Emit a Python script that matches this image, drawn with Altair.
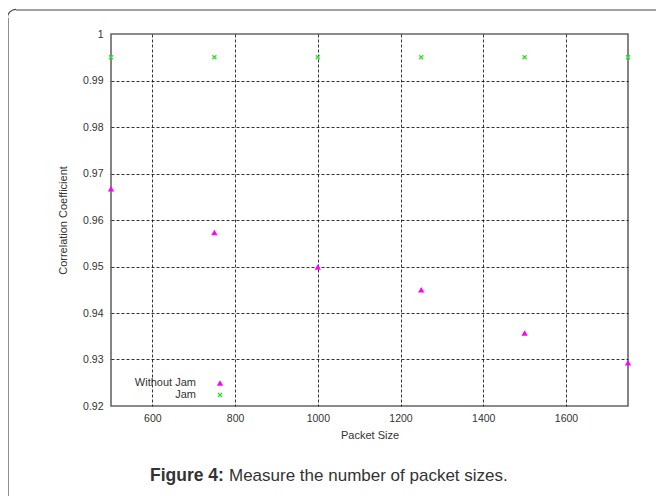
import altair as alt
import pandas as pd

packet_sizes = [500, 750, 1000, 1250, 1500, 1750]
without_jam = [0.9667, 0.9573, 0.9499, 0.9450, 0.9357, 0.9293]
jam = [0.995, 0.995, 0.995, 0.995, 0.995, 0.995]
x_ticks = [600, 800, 1000, 1200, 1400, 1600]
y_ticks = [0.92, 0.93, 0.94, 0.95, 0.96, 0.97, 0.98, 0.99, 1.0]

df = pd.DataFrame({"size": packet_sizes, "without": without_jam, "jam": jam})
one = pd.DataFrame({"k": [0]})

FONT = "Liberation Sans"
MAGENTA = "#ff00ff"
GREEN = "#33dd33"
XPATH = "M-1,-1L1,1M-1,1L1,-1"

xs = alt.Scale(domain=[500, 1750], nice=False, zero=False)
ys = alt.Scale(domain=[0.92, 1.0], nice=False, zero=False)

xaxis = alt.Axis(values=x_ticks, title="Packet Size", format="d", ticks=False, domain=False,
                 labelPadding=7, titlePadding=6,
                 gridOpacity=alt.condition("datum.value < 505 || datum.value > 1745",
                                           alt.value(0), alt.value(0.85)))
yaxis = alt.Axis(values=y_ticks, title="Correlation Coefficient", format=".2~f",
                 ticks=False, domain=False, labelPadding=8, titlePadding=14,
                 gridOpacity=alt.condition("datum.value < 0.925 || datum.value > 0.995",
                                           alt.value(0), alt.value(0.85)))

base = alt.Chart(df)
p_without = base.mark_point(shape="triangle-up", filled=True, size=40, color=MAGENTA,
                            opacity=1).encode(
    x=alt.X("size:Q", scale=xs, axis=xaxis),
    y=alt.Y("without:Q", scale=ys, axis=yaxis),
)
p_jam = base.mark_point(shape=XPATH, filled=False, size=16, strokeWidth=1.4,
                        color=GREEN, opacity=1).encode(
    x=alt.X("size:Q", scale=xs),
    y=alt.Y("jam:Q", scale=ys),
)

ob = alt.Chart(one)
leg_t1 = ob.mark_text(text="Without Jam", align="right", baseline="middle",
                      font=FONT, fontSize=11, color="#333").encode(
    x=alt.value(85), y=alt.value(349))
leg_t2 = ob.mark_text(text="Jam", align="right", baseline="middle",
                      font=FONT, fontSize=11, color="#333").encode(
    x=alt.value(85), y=alt.value(361))
leg_s1 = ob.mark_point(shape="triangle-up", filled=True, size=40, color=MAGENTA,
                       opacity=1).encode(x=alt.value(109), y=alt.value(349))
leg_s2 = ob.mark_point(shape=XPATH, filled=False, size=16, strokeWidth=1.4,
                       color=GREEN, opacity=1).encode(x=alt.value(109), y=alt.value(361))

cap_b = ob.mark_text(text="Figure 4:", align="left", baseline="alphabetic",
                     font=FONT, fontSize=17.5, fontWeight="bold", color="#333").encode(
    x=alt.value(39), y=alt.value(447))
cap_n = ob.mark_text(text="Measure the number of packet sizes.", align="left",
                     baseline="alphabetic", font=FONT, fontSize=17, color="#333").encode(
    x=alt.value(118), y=alt.value(447))

border_v = ob.mark_rule(color="#444", strokeWidth=1.2).encode(
    x=alt.value(-103), y=alt.value(-16), y2=alt.value(480))
border_h = ob.mark_rule(color="#444", strokeWidth=1.2).encode(
    x=alt.value(-95), x2=alt.value(560), y=alt.value(-24))
corner = ob.mark_arc(color="#444", radius=8, radius2=9.2, theta=4.712, theta2=6.283).encode(
    x=alt.value(-95), y=alt.value(-16))

chart = alt.layer(p_without, p_jam, leg_t1, leg_t2, leg_s1, leg_s2, cap_b, cap_n,
                  border_v, border_h, corner).properties(
    width=517, height=372,
    autosize=alt.AutoSizeParams(type="none"),
    padding={"left": 103, "top": 26, "right": 28, "bottom": 90},
    background="white",
).configure_view(
    stroke="#666", strokeWidth=1.6
).configure_axis(
    labelFont=FONT, titleFont=FONT, labelFontSize=10.5, titleFontSize=11,
    labelColor="#333", titleColor="#333", titleFontWeight="normal",
    gridColor="#111", gridDash=[3, 2], gridWidth=1,
)

chart.save("out.html", embed_options={"renderer": "svg", "actions": False})
